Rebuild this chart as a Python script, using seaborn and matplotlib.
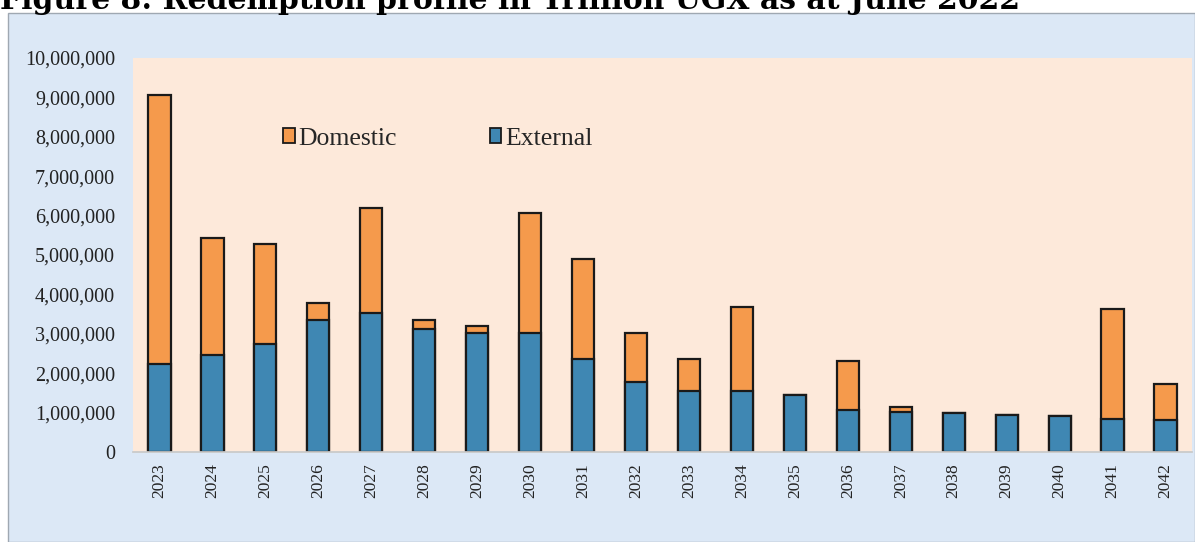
import matplotlib
matplotlib.use("Agg")
import matplotlib.pyplot as plt
import matplotlib.ticker as mticker
from matplotlib.patches import Rectangle, Patch
import seaborn as sns
import pandas as pd

years = [str(y) for y in range(2023, 2043)]
external = [2230000, 2460000, 2750000, 3360000, 3540000, 3110000, 3020000, 3030000, 2370000, 1780000,
            1540000, 1540000, 1440000, 1060000, 1020000, 990000, 950000, 910000, 850000, 810000]
total = [9050000, 5430000, 5280000, 3780000, 6190000, 3340000, 3200000, 6070000, 4890000, 3030000,
         2350000, 3680000, 1440000, 2310000, 1150000, 990000, 950000, 910000, 3640000, 1720000]
domestic = [t - e for t, e in zip(total, external)]

title = "Figure 8: Redemption profile in Trillion UGX as at June 2022"
series_names = ["Domestic", "External"]

df = pd.DataFrame({"year": years, "external": external, "domestic": domestic})
df["total"] = df["external"] + df["domestic"]

sns.set_theme(style="white")
plt.rcParams["font.family"] = ["Liberation Serif", "DejaVu Serif"]

orange = "#F59A4C"
blue = "#3F87B3"

fig = plt.figure(figsize=(11.95, 5.42), dpi=100)
fig.patch.set_facecolor("white")
bg = Rectangle((8 / 1195, 0), 1 - 8 / 1195, 1 - 13 / 542, transform=fig.transFigure,
               facecolor="#DCE8F6", edgecolor="#9FA8B2", linewidth=1.0, zorder=-5)
fig.patches.append(bg)

ax = fig.add_axes([133 / 1195, 90 / 542, 1059 / 1195, 394 / 542])
ax.set_zorder(2)
ax.set_facecolor("#FDE9DA")

sns.barplot(data=df, x="year", y="total", color=orange, width=0.42, edgecolor="#1a1a1a",
            linewidth=1.6, saturation=1, ax=ax)
sns.barplot(data=df, x="year", y="external", color=blue, width=0.42, edgecolor="#1a1a1a",
            linewidth=1.6, saturation=1, ax=ax)

ax.set_ylim(0, 10000000)
ax.set_xlim(-0.5, len(years) - 0.5)
ax.yaxis.set_major_locator(mticker.MultipleLocator(1000000))
ax.yaxis.set_major_formatter(mticker.FuncFormatter(lambda v, p: f"{int(v):,}"))
ax.set_xlabel("")
ax.set_ylabel("")
ax.tick_params(axis="y", labelsize=14.5, colors="#222222", pad=13, length=0)
ax.tick_params(axis="x", labelsize=12.5, colors="#222222", pad=8, length=0, rotation=90)
for s in ax.spines.values():
    s.set_visible(False)
ax.spines["bottom"].set_visible(True)
ax.spines["bottom"].set_color("#c9c9c9")

handles = [Patch(facecolor=orange, edgecolor="#1a1a1a", linewidth=1.3),
           Patch(facecolor=blue, edgecolor="#1a1a1a", linewidth=1.3)]
ax.legend(handles, series_names, loc="center left", bbox_to_anchor=(0.12, 0.795), ncol=2,
          frameon=False, fontsize=18.5, handlelength=0.45, handleheight=0.5, handletextpad=0.15,
          columnspacing=3.6)

fig.text(0.0, 1 - 9 / 542, title, ha="left", va="baseline", fontsize=21.5, fontweight="bold",
         family=["DejaVu Serif"], color="black")

fig.savefig("out.png", dpi=100)
